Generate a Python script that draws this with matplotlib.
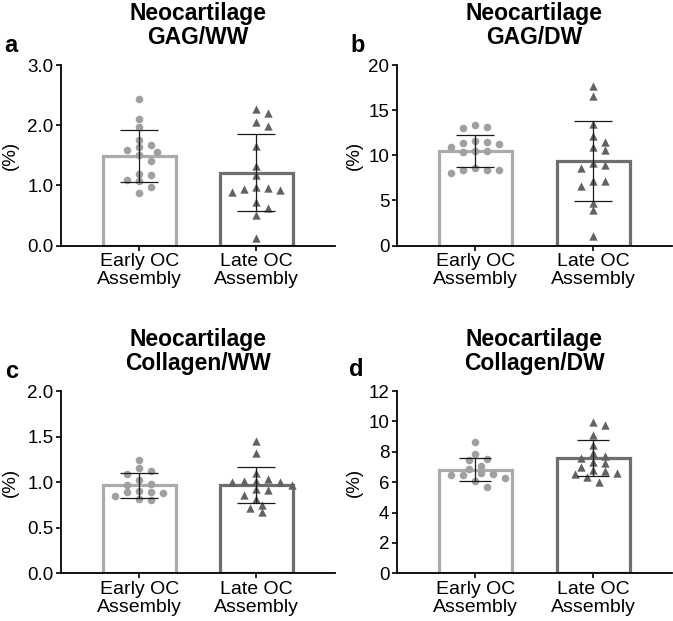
import numpy as np
import matplotlib
matplotlib.use('Agg')
import matplotlib.pyplot as plt

plt.rcParams['font.family'] = ['Liberation Sans', 'DejaVu Sans']

# categories and panel text
groups = ['Early OC\nAssembly', 'Late OC\nAssembly']
titles = ['Neocartilage\nGAG/WW', 'Neocartilage\nGAG/DW',
          'Neocartilage\nCollagen/WW', 'Neocartilage\nCollagen/DW']
letters = ['a', 'b', 'c', 'd']

# individual values (%)
gag_ww_early = [2.43, 2.10, 1.97, 1.75, 1.67, 1.63, 1.56, 1.59, 1.50, 1.40, 1.19, 1.18, 1.07, 1.09, 0.97, 0.87]
gag_ww_late = [2.27, 2.21, 2.05, 1.98, 1.65, 1.32, 1.18, 0.98, 0.95, 0.94, 0.93, 0.89, 0.73, 0.63, 0.50, 0.13]
gag_dw_early = [13.33, 13.15, 13.0, 11.59, 11.52, 11.37, 11.22, 10.93, 10.52, 10.52, 10.41, 8.63, 8.41, 8.37, 8.33, 8.04]
gag_dw_late = [17.66, 16.55, 13.42, 12.13, 11.5, 10.9, 10.6, 9.1, 8.9, 8.6, 7.2, 7.1, 6.6, 4.7, 3.9, 1.1]
col_ww_early = [1.24, 1.15, 1.12, 1.09, 1.02, 0.98, 0.97, 0.90, 0.89, 0.89, 0.88, 0.85, 0.81, 0.80]
col_ww_late = [1.45, 1.32, 1.10, 1.04, 1.01, 1.01, 1.00, 1.00, 0.97, 0.92, 0.91, 0.86, 0.82, 0.75, 0.72, 0.67]
col_dw_early = [8.62, 7.85, 7.50, 7.45, 7.06, 6.88, 6.58, 6.51, 6.47, 6.47, 6.29, 6.09, 5.70]
col_dw_late = [9.97, 9.76, 9.10, 8.44, 7.94, 7.72, 7.61, 7.34, 7.24, 6.97, 6.80, 6.75, 6.58, 6.53, 6.36, 6.03]

# bar heights (mean) and error bars (SD)
means = [[1.49, 1.21], [10.5, 9.35], [0.965, 0.97], [6.83, 7.58]]
sds = [[0.43, 0.64], [1.78, 4.4], [0.135, 0.20], [0.78, 1.2]]

points = [[gag_ww_early, gag_ww_late], [gag_dw_early, gag_dw_late],
          [col_ww_early, col_ww_late], [col_dw_early, col_dw_late]]

ylims = [(0, 3), (0, 20), (0, 2), (0, 12)]
ysteps = [1.0, 5, 0.5, 2]
yfmts = ['{:.1f}', '{:.0f}', '{:.1f}', '{:.0f}']

W, H = 673, 621
# axes boxes in pixels: left, top, right, bottom
boxes = [(61, 65, 335, 245.5), (396.7, 65, 672, 245.5),
         (61, 391, 335, 573.3), (396.7, 391, 672, 573.3)]
letter_pos = [(11, 45), (358, 45), (12, 371), (356, 369)]
ylabel_x = [10, 354, 10, 354]
capsizes = [14, 14, 14, 11.5]

edge_cols = ['#ababab', '#6e6e6e']
mark_cols = ['#a0a0a0', '#626262']
markers = ['o', '^']
msizes = [30, 36]


def swarm(ax, xc, vals, sx=12.0, sy=7.0):
    tr = ax.transData
    vals = np.asarray(vals, dtype=float)
    y_px = tr.transform(np.column_stack([np.full(len(vals), xc), vals]))[:, 1]
    ppu = tr.transform((xc + 1, 0))[0] - tr.transform((xc, 0))[0]
    cands = [0.0]
    for k in range(1, 14):
        cands += [k * sx / 2, -k * sx / 2]
    placed = []
    offs = np.zeros(len(vals))
    for i in np.argsort(-y_px):
        for c in cands:
            if all(((c - px) / sx) ** 2 + ((y_px[i] - py) / sy) ** 2 >= 1 for px, py in placed):
                break
        placed.append((c, y_px[i]))
        offs[i] = c / ppu
    return xc + offs


fig = plt.figure(figsize=(W / 100, H / 100), dpi=100)

for p in range(4):
    l, t, r, b = boxes[p]
    ax = fig.add_axes([l / W, 1 - b / H, (r - l) / W, (b - t) / H])
    ax.set_xlim(-0.668, 1.67)
    ax.set_ylim(*ylims[p])

    x = np.arange(2)
    ax.bar(x, means[p], width=0.62, color='white', edgecolor=edge_cols,
           linewidth=2.3, zorder=2)
    for g in range(2):
        xs = swarm(ax, g, points[p][g])
        ax.scatter(xs, points[p][g], s=msizes[g], marker=markers[g],
                   color=mark_cols[g], linewidths=0, zorder=3, clip_on=False)
    ax.errorbar(x, means[p], yerr=sds[p], fmt='none', ecolor='#1a1a1a',
                elinewidth=0.9, capsize=capsizes[p], capthick=0.9, zorder=4)

    yt = np.arange(ylims[p][0], ylims[p][1] + ysteps[p] / 2, ysteps[p])
    ax.set_yticks(yt)
    ax.set_yticklabels([yfmts[p].format(v) for v in yt])
    ax.set_xticks(x)
    ax.set_xticklabels(groups, fontsize=14, linespacing=1.1)
    ax.tick_params(axis='y', labelsize=13.5, width=1.2, length=3.8, pad=1.5)
    ax.tick_params(axis='x', width=1.2, length=3.8, pad=1.5)
    for s in ['top', 'right']:
        ax.spines[s].set_visible(False)
    for s in ['left', 'bottom']:
        ax.spines[s].set_linewidth(1.3)

    ax.set_title(titles[p], fontsize=16.5, fontweight='bold', pad=15,
                 linespacing=1.05)
    fig.text(letter_pos[p][0] / W, 1 - letter_pos[p][1] / H, letters[p],
             fontsize=17, fontweight='bold', ha='center', va='center')
    fig.text(ylabel_x[p] / W, 1 - (t + b) / 2 / H, '(%)', fontsize=13.5,
             rotation=90, ha='center', va='center')

fig.savefig('out.png', dpi=100)
